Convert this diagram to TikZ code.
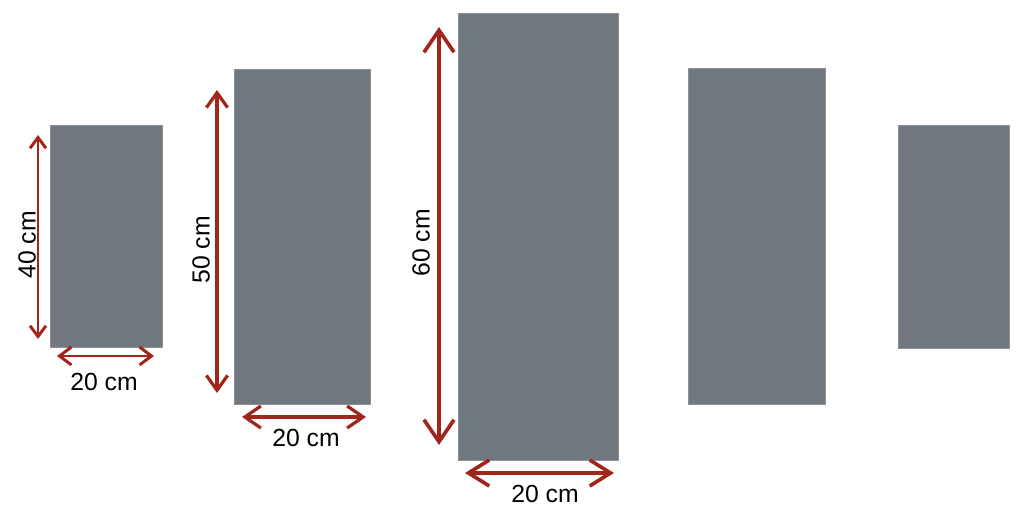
\documentclass[tikz,border=0pt]{standalone}
\usepackage{fontspec}
\setmainfont{Liberation Sans}
\usepackage{xcolor}
\usetikzlibrary{arrows.meta}
\definecolor{panelgrey}{RGB}{112,119,126}
\definecolor{dimred}{RGB}{160,38,28}
\tikzset{
  panel/.style={fill=panelgrey, draw=panelgrey!80!white, line width=0.4pt},
  % length, width of the tips, line width
  dimarrow/.style n args={3}{{Straight Barb[length=#1,width=#2]}-{Straight Barb[length=#1,width=#2]}, line width=#3, dimred},
  dimlabel/.style={font=\fontsize{17.6}{20}\selectfont, inner sep=0pt}
}
\begin{document}
\begin{tikzpicture}[x=0.025cm, y=-0.025cm]
\useasboundingbox (0,0) rectangle (1020,517);
% PANEL 1: 40 x 20
\fill[panel] (50,125) rectangle (162,347);
\draw[dimarrow={0.27cm}{0.4cm}{2.1pt}] (38,135) -- (38,339);
\node[dimlabel, rotate=90] (h1) at (27,245) {40 cm};
\draw[dimarrow={0.3cm}{0.45cm}{2.1pt}] (57,356) -- (154,356);
\node[dimlabel] (w1) at (104,382) {20 cm};
% PANEL 2: 50 x 20
\fill[panel] (234,69) rectangle (370,404);
\draw[dimarrow={0.37cm}{0.53cm}{2.3pt}] (217,90) -- (217,393);
\node[dimlabel, rotate=90] (h2) at (201,250) {50 cm};
\draw[dimarrow={0.4cm}{0.55cm}{2.3pt}] (242,417) -- (366,417);
\node[dimlabel] (w2) at (306,438) {20 cm};
% PANEL 3: 60 x 20
\fill[panel] (458,13) rectangle (618,460);
\draw[dimarrow={0.55cm}{0.75cm}{2.6pt}] (439,27) -- (439,445);
\node[dimlabel, rotate=90] (h3) at (421,243) {60 cm};
\draw[dimarrow={0.52cm}{0.65cm}{2.6pt}] (465,473) -- (614,473);
\node[dimlabel] (w3) at (545,494) {20 cm};
% PANELS 4 and 5: no dimensions
\fill[panel] (688,68) rectangle (825,404);
\fill[panel] (898,125) rectangle (1009,348);
\end{tikzpicture}
\end{document}
